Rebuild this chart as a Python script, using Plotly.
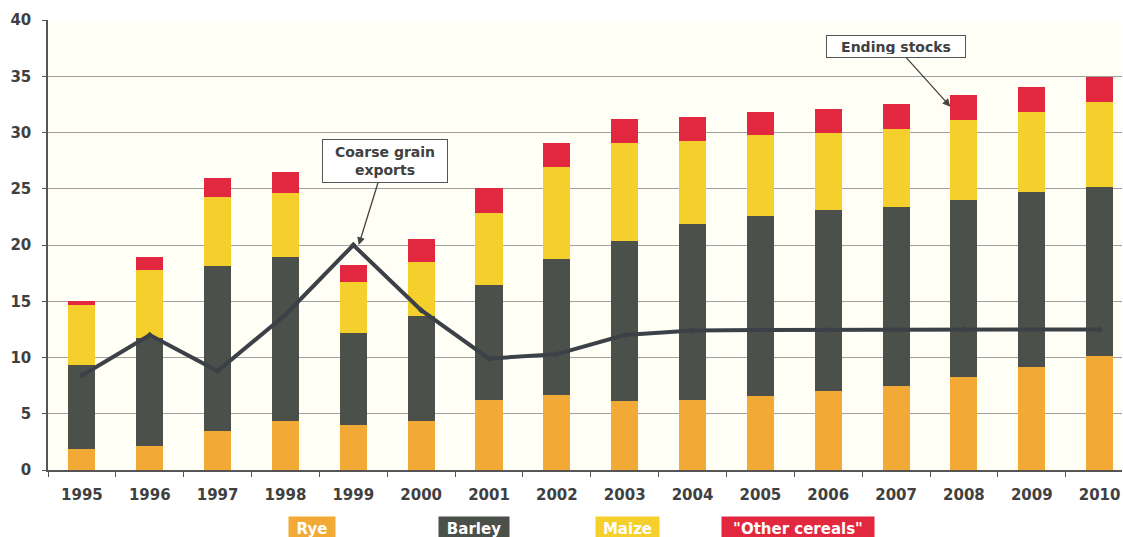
import plotly.graph_objects as go

years = ["1995", "1996", "1997", "1998", "1999", "2000", "2001", "2002",
         "2003", "2004", "2005", "2006", "2007", "2008", "2009", "2010"]
rye = [1.85, 2.1, 3.45, 4.4, 4.0, 4.4, 6.2, 6.65, 6.15, 6.25, 6.55, 7.0, 7.5, 8.25, 9.15, 10.1]
barley = [7.5, 9.6, 14.7, 14.55, 8.15, 9.3, 10.25, 12.1, 14.25, 15.6, 16.0, 16.1, 15.9, 15.75, 15.6, 15.05]
maize = [5.3, 6.05, 6.15, 5.7, 4.6, 4.75, 6.4, 8.2, 8.65, 7.4, 7.2, 6.85, 6.9, 7.1, 7.05, 7.55]
other = [0.4, 1.2, 1.7, 1.8, 1.5, 2.05, 2.2, 2.15, 2.15, 2.15, 2.1, 2.15, 2.2, 2.2, 2.25, 2.25]
exports = [8.4, 12.0, 8.8, 13.8, 20.0, 14.2, 9.9, 10.3, 12.0, 12.4, 12.45, 12.45, 12.5, 12.5, 12.5, 12.5]

series_names = ["Rye", "Barley", "Maize", "\"Other cereals\""]
colors = ["#F2A935", "#4B504A", "#F5D02C", "#E2283F"]
y_ticks = [0, 5, 10, 15, 20, 25, 30, 35, 40]

fig = go.Figure()
for name, vals, col in zip(series_names, [rye, barley, maize, other], colors):
    fig.add_trace(go.Bar(x=years, y=vals, name=name, marker_color=col,
                         marker_line_width=0, width=0.4))

fig.add_trace(go.Scatter(x=years, y=exports, mode="lines+markers", name="Coarse grain exports",
                         line=dict(color="#3C4148", width=4),
                         marker=dict(symbol="diamond", size=5, color="#3C4148")))

font_b = "DejaVu Sans, Verdana, sans-serif"

fig.update_layout(
    width=1123, height=537,
    barmode="stack",
    showlegend=False,
    paper_bgcolor="#FFFFFF",
    plot_bgcolor="#FFFFF6",
    margin=dict(l=48, r=1, t=20, b=67),
    font=dict(family=font_b, color="#333333"),
)
fig.update_xaxes(
    type="category", range=[-0.5, 15.33], tickson="boundaries",
    ticks="outside", ticklen=5, tickcolor="#555555",
    showline=True, linecolor="#555555", linewidth=1.5,
    showgrid=False, ticklabelstandoff=10,
    tickfont=dict(family=font_b, size=15, color="#404040", weight="bold"),
)
fig.update_yaxes(
    range=[0, 40], tickvals=y_ticks, ticks="outside", ticklen=4, tickcolor="#555555",
    showline=True, linecolor="#555555", linewidth=1.5,
    gridcolor="#A0A0A0", gridwidth=1, zeroline=False, ticklabelstandoff=8,
    tickfont=dict(family=font_b, size=15, color="#404040", weight="bold"),
)

fig.add_annotation(x=4.08, y=20, text="<b>Coarse grain<br>exports</b>",
                   showarrow=True, ax=26, ay=-84, arrowhead=2, arrowsize=1.2, arrowwidth=1.3,
                   arrowcolor="#444444", bgcolor="#FFFFFF", bordercolor="#555555",
                   borderwidth=1, borderpad=3, width=118, height=36,
                   font=dict(size=14, color="#404040", family=font_b))
fig.add_annotation(x=12.8, y=32.3, text="<b>Ending stocks</b>",
                   showarrow=True, ax=-54, ay=-60, arrowhead=2, arrowsize=1.2, arrowwidth=1.3,
                   arrowcolor="#444444", bgcolor="#FFFFFF", bordercolor="#555555",
                   borderwidth=1, borderpad=3, width=132, height=15,
                   font=dict(size=14, color="#404040", family=font_b))

legend_x = [312, 474, 627, 798]
legend_w = [40, 64, 57, 146]
for name, col, lx, w in zip(series_names, colors, legend_x, legend_w):
    fig.add_annotation(xref="paper", yref="paper", xanchor="center", yanchor="middle",
                       x=(lx - 48) / 1074, y=-(529 - 470) / 450,
                       text="<b>" + name + "</b>", showarrow=False,
                       bgcolor=col, borderpad=3, width=w, height=18,
                       font=dict(size=15, color="#FFFFFF", family=font_b))

fig.write_html("out.html")
